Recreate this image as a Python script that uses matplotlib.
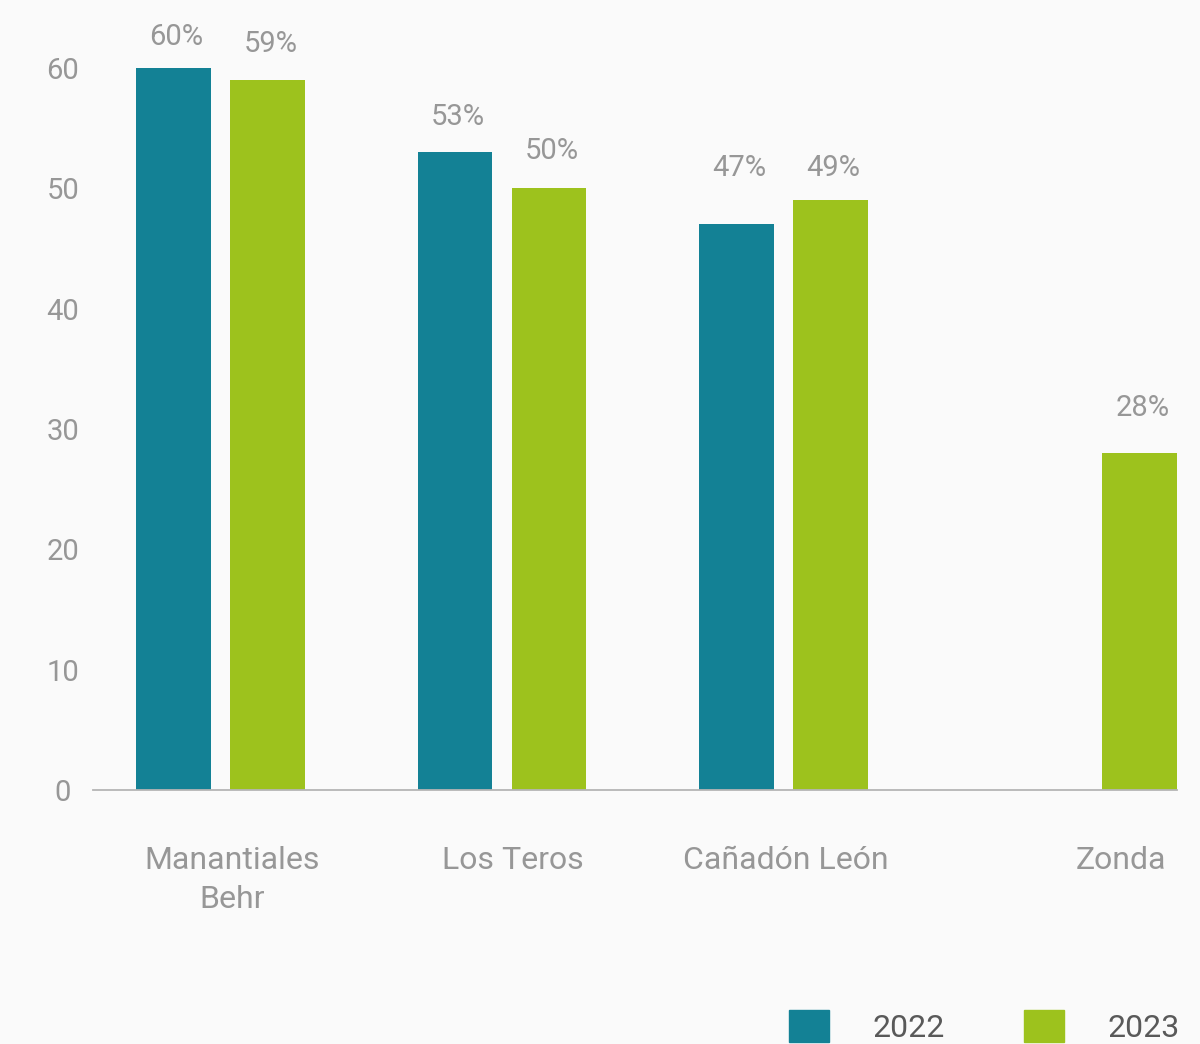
import matplotlib
matplotlib.use("Agg")
import matplotlib.pyplot as plt
from matplotlib.patches import Patch
import numpy as np

plt.rcParams['font.family'] = ['Roboto', 'DejaVu Sans']

categories = ["Manantiales\nBehr", "Los Teros", "Cañadón León", "Zonda"]
values_2022 = [60, 53, 47, None]
values_2023 = [59, 50, 49, 28]
yticks = [0, 10, 20, 30, 40, 50, 60]
series_names = ["2022", "2023"]

# gap (px) between bar top and label baseline, as laid out in the reference
gap_2022 = [23, 27, 48, 0]
gap_2023 = [28, 29, 24, 37]

c2022 = "#138195"
c2023 = "#9dc21d"
tick_col = "#979797"
bg = "#fafafa"

fig = plt.figure(figsize=(12, 10.44), dpi=100, facecolor=bg)
ax = fig.add_axes([93/1200, 1-790/1044, (1177-93)/1200, (790-44)/1044])
ax.set_facecolor(bg)

x = np.arange(len(categories), dtype=float)
off = 0.167
w = 0.266
shift = [0, 0, 0, 0.098]
px2pt = 72/100

def label(xc, v, gap):
    ax.annotate(f"{v}%", (xc, v), xytext=(3*px2pt, gap*px2pt), textcoords="offset points",
                ha="center", va="baseline", fontsize=21, color=tick_col,
                annotation_clip=False)

for i in range(len(categories)):
    if values_2022[i] is not None:
        xc = x[i] - off + shift[i]
        ax.bar(xc, values_2022[i], w, color=c2022)
        label(xc, values_2022[i], gap_2022[i])
    if values_2023[i] is not None:
        xc = x[i] + off + shift[i]
        ax.bar(xc, values_2023[i], w, color=c2023)
        label(xc, values_2023[i], gap_2023[i])

ax.set_xlim(-0.453, 3.398)
ax.set_ylim(0, 62)
ax.set_yticks(yticks)
ax.set_yticklabels([str(t) for t in yticks], ha="center")
label_pos = x + np.array([0.04, 0.04, 0.01, 0.2])
ax.set_xticks(label_pos)
ax.set_xticklabels(categories, linespacing=1.45, fontsize=23)
ax.tick_params(axis="both", length=0, labelcolor=tick_col)
ax.tick_params(axis="y", labelsize=21, pad=30*px2pt)
ax.tick_params(axis="x", pad=40)

for s in ["top", "right", "left"]:
    ax.spines[s].set_visible(False)
ax.spines["bottom"].set_color("#b5b5b5")
ax.spines["bottom"].set_linewidth(1.3)

handles = [Patch(color=c2022, label=series_names[0]), Patch(color=c2023, label=series_names[1])]
leg = fig.legend(handles=handles, loc="lower right", bbox_to_anchor=(1180/1200, 0.001), ncol=2,
                 frameon=False, fontsize=23, handlelength=1.25, handleheight=1.16,
                 handletextpad=1.38, columnspacing=2.46, labelcolor="#595959",
                 borderaxespad=0.0, borderpad=0.0)

fig.savefig("out.png", dpi=100, facecolor=bg)
